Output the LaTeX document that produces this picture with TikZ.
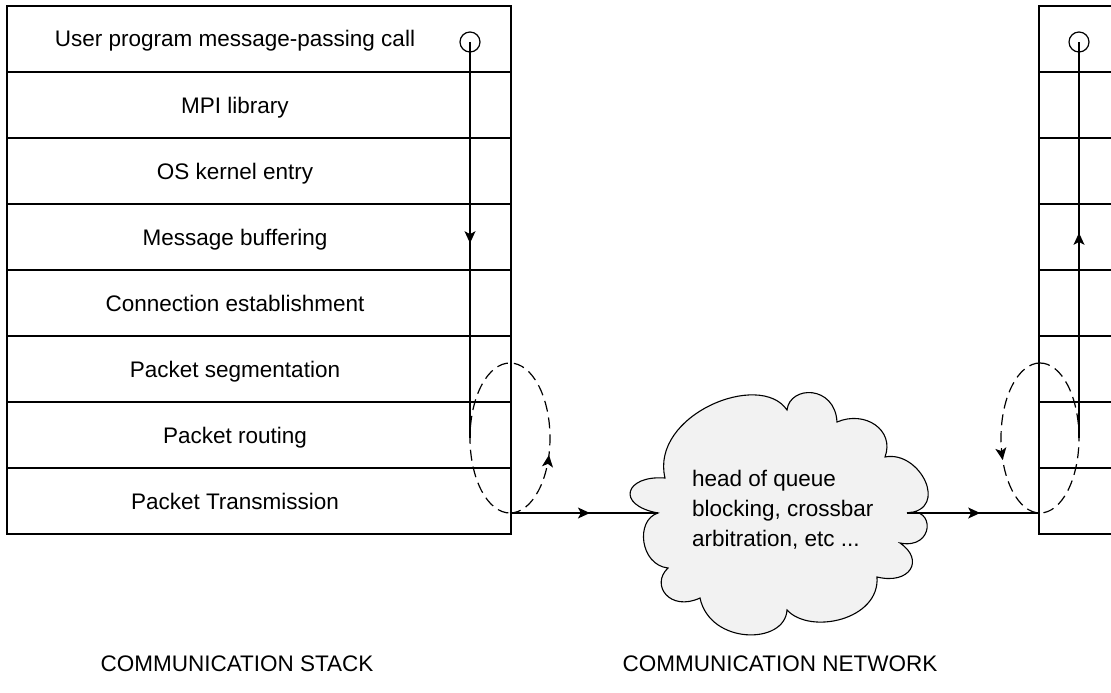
\documentclass[tikz,border=0pt]{standalone}
\usepackage{fontspec}
\setmainfont{Liberation Sans}
\usetikzlibrary{arrows.meta,decorations.markings}
\begin{document}
\begin{tikzpicture}[x=1pt,y=-1pt,
  every node/.style={font=\fontsize{22.5}{30}\selectfont, inner sep=0pt, outer sep=0pt},
  cell/.style={draw, line width=1.2pt, minimum height=66pt},
  lcell/.style={cell, minimum width=504pt},
  rcell/.style={cell, minimum width=91pt},
  lbl/.style={anchor=base},
  flow/.style={line width=1.2pt},
  loopline/.style={line width=1.2pt, dash pattern=on 11pt off 6pt},
  marker/.style={draw, circle, line width=1.2pt, minimum size=20pt},
  midarrow/.style={postaction={decorate}, decoration={markings,
      mark=at position #1 with {\arrow{Stealth[length=12pt,width=11pt,inset=3pt]}}}},
]
\useasboundingbox (0,0) rectangle (1111,693);
\fill[white] (0,0) rectangle (1111,693);
\clip (0,0) rectangle (1111,693);

% left protocol stack
\foreach \i/\t in {1/User program message-passing call, 2/MPI library,
                   3/OS kernel entry, 4/Message buffering,
                   5/Connection establishment, 6/Packet segmentation,
                   7/Packet routing, 8/Packet Transmission} {
  \node[lcell] (L\i) at (259, {6+66*\i-33}) {};
  \node[lbl] (T\i) at (235, {6+66*\i-25}) {\t};
}

% right protocol stack (cut by the page edge)
\foreach \i in {1,...,8} {
  \node[rcell] (R\i) at (1084.5, {6+66*\i-33}) {};
}

% network cloud
\draw[line width=1.1pt, fill=gray!10]
  (665,478) .. controls (650,415) and (760,370) .. (787,410)
  .. controls (790,385) and (835,385) .. (837,422)
  .. controls (865,410) and (895,430) .. (885,457)
  .. controls (920,450) and (950,510) .. (907,513)
  .. controls (935,505) and (935,550) .. (900,543)
  .. controls (925,560) and (910,585) .. (877,577)
  .. controls (880,620) and (810,635) .. (787,610)
  .. controls (785,645) and (710,645) .. (700,598)
  .. controls (670,612) and (650,585) .. (668,568)
  .. controls (640,565) and (635,520) .. (658,513)
  .. controls (615,505) and (625,475) .. (665,478) -- cycle;
\coordinate (cloudW) at (658,513);
\coordinate (cloudE) at (907,513);
\node[anchor=north west, align=left] (net) at (692,470)
  {head of queue\\blocking, crossbar\\arbitration, etc ...};

% key points of the two loops
\coordinate (e1c) at (510,438);
\coordinate (e1b) at (510,513);
\coordinate (e1w) at (470,438);
\coordinate (e2c) at (1040,438);
\coordinate (e2t) at (1040,363);
\coordinate (e2b) at (1040,513);
\coordinate (e2e) at (1079,438);

% dashed retry loops
\draw[loopline, midarrow=0.204] (e1b)
  arc[start angle=90, delta angle=-360, x radius=40, y radius=75];
\draw[loopline, midarrow=0.31] (e2t)
  arc[start angle=-90, delta angle=-360, x radius=39, y radius=75];

% call markers and vertical paths
\node[marker] (c1) at (470,42) {};
\node[marker] (c2) at (1079,42) {};
\draw[flow, midarrow=0.508] (c1.center) -- (e1w);
\draw[flow, midarrow=0.518] (e2e) -- (c2.center);

% links through the network
\draw[flow, midarrow=0.54] (e1b) -- (cloudW);
\draw[flow, midarrow=0.55] (cloudE) -- (e2b);

% captions
\node[lbl] (capS) at (237,671) {COMMUNICATION STACK};
\node[lbl] (capN) at (780,671) {COMMUNICATION NETWORK};
\end{tikzpicture}
\end{document}
